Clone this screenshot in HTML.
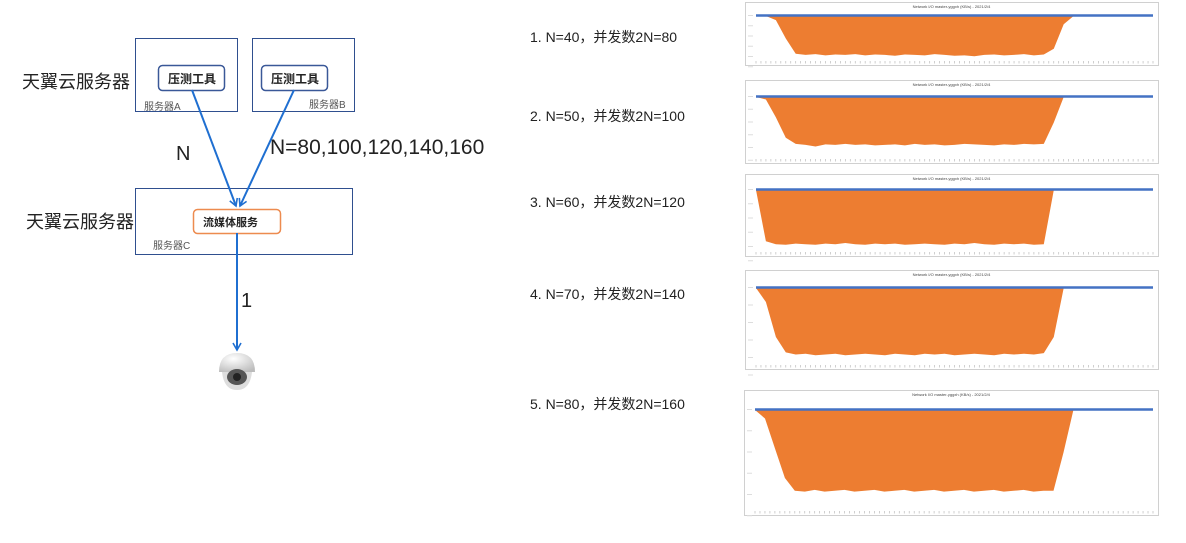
<!DOCTYPE html>
<html><head><meta charset="utf-8"><style>
body{margin:0;width:1186px;height:543px;background:#fff;overflow:hidden;font-family:"Liberation Sans","Noto Sans CJK SC",sans-serif;position:relative}
.t{position:absolute;white-space:nowrap;color:#222}
</style></head><body>
<svg width="1186" height="543" style="position:absolute;left:0;top:0">
<defs><marker id="ar" markerWidth="10" markerHeight="10" refX="8" refY="5" orient="auto" markerUnits="userSpaceOnUse"><path d="M1,1 L8,5 L1,9" fill="none" stroke="#1f6fd1" stroke-width="1.6"/></marker>
<radialGradient id="dome" cx="0.4" cy="0.3" r="0.8"><stop offset="0" stop-color="#fff"/><stop offset="1" stop-color="#bbb"/></radialGradient></defs>
<rect x="135.5" y="38.5" width="102" height="73" fill="none" stroke="#2f4f8f"/>
<rect x="252.5" y="38.5" width="102" height="73" fill="none" stroke="#2f4f8f"/>
<rect x="158.5" y="65.5" width="66" height="25" rx="4" fill="#fff" stroke="#3a5898" stroke-width="1.5"/>
<rect x="261.5" y="65.5" width="66" height="25" rx="4" fill="#fff" stroke="#3a5898" stroke-width="1.5"/>
<rect x="135.5" y="188.5" width="217" height="66" fill="none" stroke="#2f4f8f"/>
<rect x="193.5" y="209.5" width="87" height="24" rx="4" fill="#fff" stroke="#ed8b4f" stroke-width="1.5"/>
<line x1="192" y1="90" x2="236" y2="206" stroke="#1f6fd1" stroke-width="2" marker-end="url(#ar)"/>
<line x1="294" y1="90" x2="240" y2="206" stroke="#1f6fd1" stroke-width="2" marker-end="url(#ar)"/>
<line x1="237" y1="233" x2="237" y2="350" stroke="#1f6fd1" stroke-width="2" marker-end="url(#ar)"/>
<g>
<path d="M219,372 Q219,353 237,353 Q255,353 255,372 Z" fill="url(#dome)"/>
<path d="M222,372 Q224,390 237,390 Q250,390 252,372 Z" fill="#ddd"/>
<ellipse cx="237" cy="377" rx="10" ry="8" fill="#555"/>
<circle cx="237" cy="377" r="4" fill="#222"/>
</g>
<g id="charts"></g>
</svg>
<div class="t" style="left:22px;top:68px;font-size:18px">天翼云服务器</div>
<div class="t" style="left:26px;top:208px;font-size:18px">天翼云服务器</div>
<div class="t" style="left:168px;top:70px;font-size:12px;font-weight:bold">压测工具</div>
<div class="t" style="left:271px;top:70px;font-size:12px;font-weight:bold">压测工具</div>
<div class="t" style="left:144px;top:98px;font-size:10px;color:#555">服务器A</div>
<div class="t" style="left:309px;top:96px;font-size:10px;color:#555">服务器B</div>
<div class="t" style="left:153px;top:237px;font-size:10px;color:#555">服务器C</div>
<div class="t" style="left:203px;top:214px;font-size:11px;font-weight:bold">流媒体服务</div>
<div class="t" style="left:176px;top:143px;font-size:20px">N</div>
<div class="t" style="left:270px;top:136px;font-size:21px">N=80,100,120,140,160</div>
<div class="t" style="left:241px;top:290px;font-size:20px">1</div>
<div class="t" style="left:530px;top:27px;font-size:14px">1. N=40，并发数2N=80</div>
<div class="t" style="left:530px;top:106px;font-size:14px">2. N=50，并发数2N=100</div>
<div class="t" style="left:530px;top:192px;font-size:14px">3. N=60，并发数2N=120</div>
<div class="t" style="left:530px;top:284px;font-size:14px">4. N=70，并发数2N=140</div>
<div class="t" style="left:530px;top:394px;font-size:14px">5. N=80，并发数2N=160</div>
<script>
const series1=[0,0,-10,-55,-92,-95,-93,-96,-94,-95,-93,-96,-94,-95,-97,-94,-95,-96,-93,-95,-97,-96,-98,-95,-94,-96,-95,-93,-96,-94,-80,-20,0,0,0,0,0,0,0,0,0];
const series2=[0,-5,-40,-80,-92,-94,-97,-93,-94,-92,-94,-93,-95,-94,-93,-95,-92,-94,-93,-95,-94,-92,-93,-94,-95,-93,-94,-92,-93,-92,-50,0,0,0,0,0,0,0,0,0,0];
const series3=[0,-90,-95,-96,-94,-95,-96,-94,-95,-93,-95,-96,-94,-95,-94,-96,-95,-94,-95,-96,-94,-95,-93,-95,-96,-94,-95,-94,-96,-95,0,0,0,0,0,0,0,0,0,0,0];
const series4=[0,-20,-70,-92,-95,-94,-96,-95,-94,-96,-95,-94,-95,-96,-94,-95,-96,-94,-95,-94,-96,-95,-94,-95,-96,-94,-95,-94,-95,-93,-70,0,0,0,0,0,0,0,0,0,0];
const series5=[0,-10,-45,-80,-95,-96,-94,-96,-95,-94,-96,-95,-94,-96,-95,-94,-96,-95,-94,-96,-95,-94,-96,-95,-94,-96,-95,-94,-96,-95,-95,-50,0,0,0,0,0,0,0,0,0];
const allSeries=[series1,series2,series3,series4,series5];
const frames=[[745,2,413,63,16,57],[745,80,413,83,97,148],[745,174,413,82,190,247],[745,270,413,99,288,358],[744,390,414,125,410,495]];
const g=document.getElementById('charts');
const NS='http://www.w3.org/2000/svg';
function mk(t,a){const e=document.createElementNS(NS,t);for(const k in a)e.setAttribute(k,a[k]);return e;}
allSeries.forEach((s,ci)=>{
 const [fx,fy,fw,fh,zy,by]=frames[ci];
 const grp=mk('g',{});
 
 
 const fr=mk('rect',{x:fx+.5,y:fy+.5,width:fw,height:fh,fill:'#fff',stroke:'#d0d0d0'});
 
 
 grp.appendChild(fr);
 const x0=fx+11,x1=fx+fw-5;
 const xs=i=>x0+(x1-x0)*i/(s.length-1);
 const ys=v=>zy+(by-zy)*(-v/100);
 for(let k=0;k<6;k++){grp.appendChild(mk('line',{x1:fx+3,x2:fx+8,y1:zy+(by-zy)*k/4-0.5,y2:zy+(by-zy)*k/4-0.5,stroke:'#ddd'}));}
 const ty=fy+fh-4;
 for(let k=0;k<=80;k++){const tx=x0+(x1-x0)*k/80;grp.appendChild(mk('line',{x1:tx,x2:tx,y1:ty,y2:ty+2.5,stroke:'#bbb','stroke-width':0.7}));}
 let d='M'+xs(0)+','+zy;
 s.forEach((v,i)=>d+=' L'+xs(i).toFixed(1)+','+ys(v).toFixed(1));
 d+=' L'+xs(s.length-1)+','+zy+'Z';
 const a=mk('path',{d:d,fill:'#ed7d31'});
 
 
 grp.appendChild(a);
 const l=mk('line',{x1:x0,x2:x1,y1:zy-0.5,y2:zy-0.5,stroke:'#4472c4','stroke-width':2.5});
 
 
 grp.appendChild(l);
 const t=mk('text',{x:fx+fw/2,y:fy+6,'font-size':4,'text-anchor':'middle',fill:'#444','font-family':'Liberation Sans'});
 t.textContent='Network I/O master-yggxh (KB/s) - 2021/2/4';
 
 
 grp.appendChild(t);
 g.appendChild(grp);
});
</script>
</body></html>
